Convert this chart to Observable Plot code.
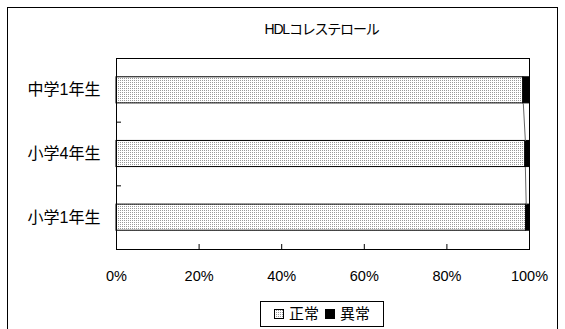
<!DOCTYPE html>
<html>
<head>
<meta charset="utf-8">
<script src="https://cdn.jsdelivr.net/npm/d3@7"></script>
<script src="https://cdn.jsdelivr.net/npm/@observablehq/plot@0.6"></script>
<style>
  html, body { margin: 0; padding: 0; background: #fff; }
  body { width: 565px; height: 329px; position: relative; overflow: hidden;
         font-family: "Liberation Sans", "Noto Sans CJK JP", sans-serif; color: #000; }
  #border { position: absolute; left: 7px; top: 7px; width: 551px; height: 340px;
            border: 1px solid #000; box-sizing: border-box; }
  #title { position: absolute; left: 0; width: 643px; top: 21px; text-align: center;
           font-size: 14px; letter-spacing: -1.2px; line-height: 17px; }
  #chart { position: absolute; left: 0; top: 0; }
  #legend { position: absolute; left: 260px; top: 301px; width: 124px; height: 26px;
            border: 1px solid #000; box-sizing: border-box; background: #fff;
            display: flex; align-items: center; justify-content: center;
            font-size: 15px; line-height: 24px; }
  #legend .sw { display: inline-block; width: 10px; height: 10px; box-sizing: border-box;
                border: 1px solid #000; margin: 0 5px 0 0; }
  #legend .item { display: inline-flex; align-items: center; margin: 0 3px; }
</style>
</head>
<body>
<div id="border"></div>
<div id="title">HDLコレステロール</div>
<div id="chart"></div>
<div id="legend"></div>
<script>
// Grades, listed top to bottom
const categories = ["中学1年生", "小学4年生", "小学1年生"];
// Share of pupils (%) in each result group
const normal = [98.5, 99.0, 99.2];
const abnormal = [1.5, 1.0, 0.8];
const seriesNames = ["正常", "異常"];
const xTicks = [0, 20, 40, 60, 80, 100];

// Fraction of each category band taken by its bar
const barShare = 0.41;
const gap = (1 - barShare) / 2;

const rows = categories.map((c, i) => ({
  category: c, i, normal: normal[i], abnormal: abnormal[i]
}));

// Series lines join the segment boundary of neighbouring bars
const links = rows.slice(0, -1).map((r, k) => ({
  x1: r.normal, y1: r.i + 1 - gap,
  x2: rows[k + 1].normal, y2: rows[k + 1].i + gap
}));

const font = '"Liberation Sans", "Noto Sans CJK JP", sans-serif';

const chart = Plot.plot({
  width: 565,
  height: 295,
  marginLeft: 116,
  marginRight: 36,
  marginTop: 58,
  marginBottom: 46,
  style: { fontFamily: font, fontSize: "15px", color: "#000", background: "transparent" },
  x: { domain: [0, 100] },
  y: { domain: [0, categories.length], reverse: true },
  marks: [
    Plot.rectX(rows, {
      x1: 0, x2: "normal",
      y1: d => d.i + gap, y2: d => d.i + 1 - gap,
      fill: "url(#dots)", stroke: "#000", strokeWidth: 1
    }),
    Plot.rectX(rows, {
      x1: "normal", x2: 100,
      y1: d => d.i + gap, y2: d => d.i + 1 - gap,
      fill: "#000", stroke: "#000", strokeWidth: 1
    }),
    Plot.link(links, {
      x1: "x1", y1: "y1", x2: "x2", y2: "y2",
      stroke: "#666", strokeWidth: 1
    }),
    Plot.frame({ stroke: "#000", strokeWidth: 1 }),
    // Category names centred in each band
    Plot.axisY({
      ticks: categories.map((c, i) => i + 0.5),
      tickSize: 0, tickPadding: 16,
      tickFormat: v => categories[Math.floor(v)],
      fontSize: 16, letterSpacing: 0.6
    }),
    // Small inward marks between categories
    Plot.axisY({
      ticks: categories.slice(1).map((c, i) => i + 1),
      tickSize: -5, tickFormat: () => "", stroke: "#000"
    }),
    Plot.axisX({
      ticks: xTicks, tickSize: -5, tickPadding: 26,
      tickFormat: d => d + "%", fontSize: 14.5, stroke: "#000"
    })
  ]
});

// Fine stipple fill used for the 正常 segments
const defs = d3.select(chart).insert("defs", ":first-child");
const pat = defs.append("pattern")
  .attr("id", "dots").attr("patternUnits", "userSpaceOnUse")
  .attr("width", 2).attr("height", 2);
pat.append("rect").attr("width", 2).attr("height", 2).attr("fill", "#fff");
pat.append("rect").attr("width", 1).attr("height", 1).attr("fill", "#999");

document.getElementById("chart").appendChild(chart);

// Legend
const legend = d3.select("#legend");
const swatches = [
  "background: conic-gradient(#999 25%, #fff 0) 0 0 / 2px 2px;",
  "background: #000;"
];
seriesNames.forEach((name, k) => {
  const item = legend.append("span").attr("class", "item");
  item.append("span").attr("class", "sw").attr("style", swatches[k]);
  item.append("span").text(name);
});
</script>
</body>
</html>
